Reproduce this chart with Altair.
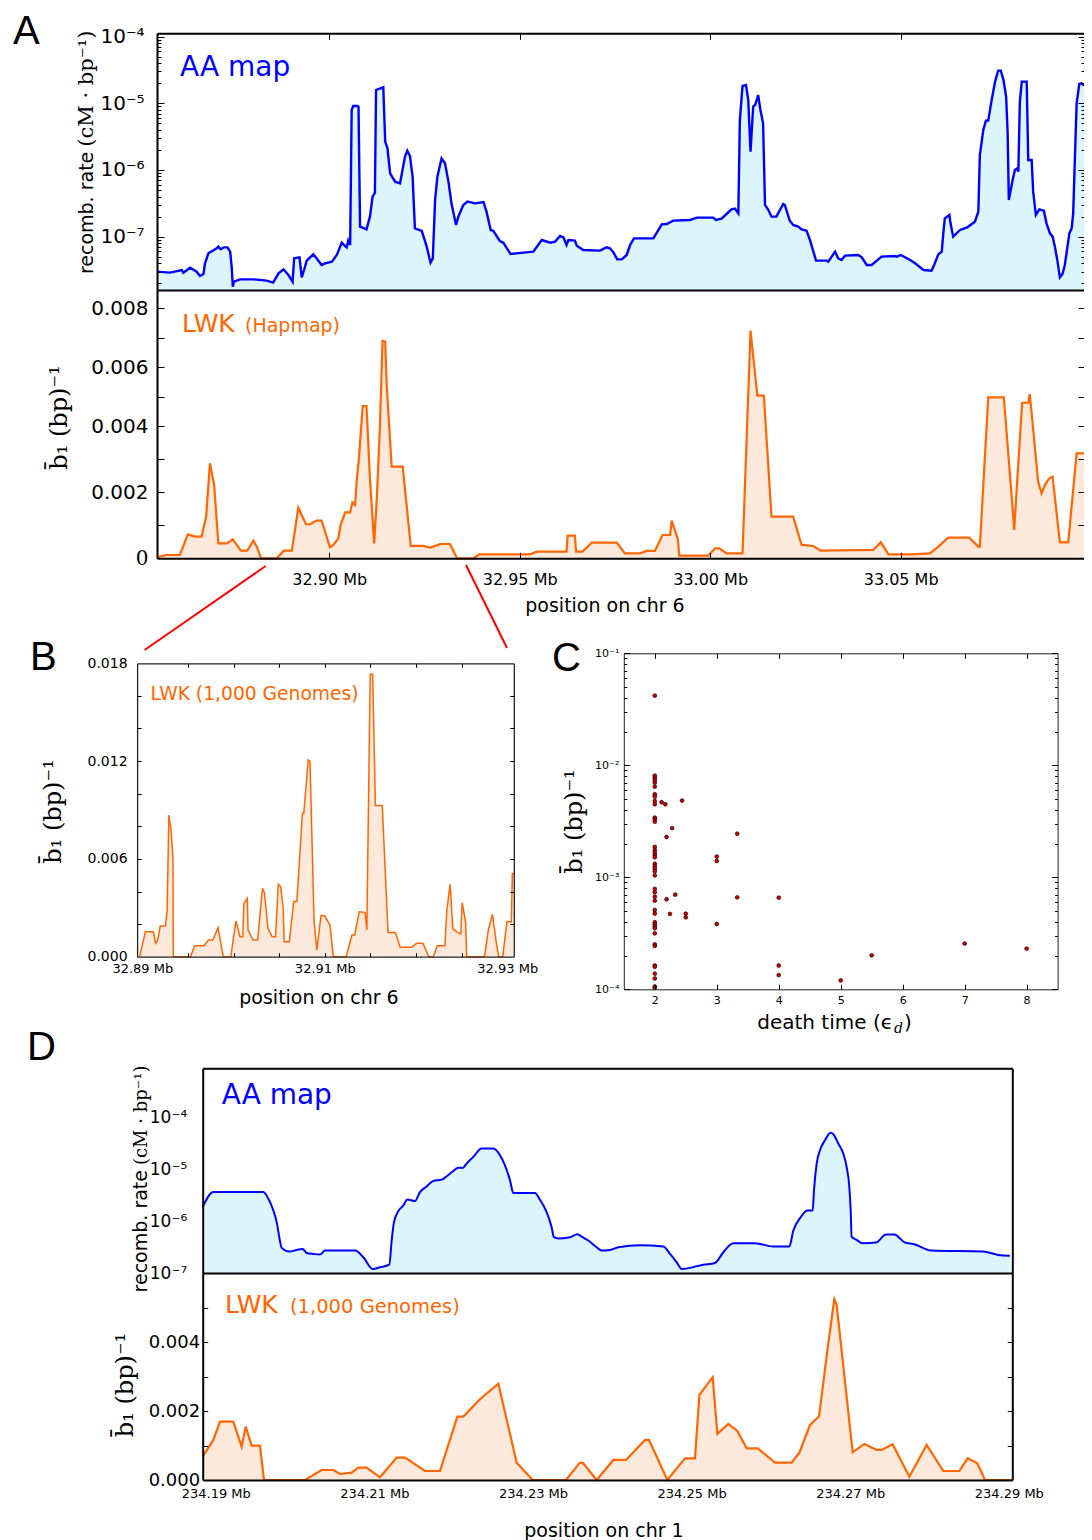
import altair as alt
import pandas as pd

W, H = 1076, 1532

# ---------------- data (positions in kb) ----------------
# Panel A, AA map on chr 6: (position kb, log10 recombination rate [cM/bp])
aa_map_chr6 = [
    (32854.8, -7.525), (32858.2, -7.54), (32861.3, -7.50), (32861.7, -7.54), (32863.5, -7.465),
    (32865.2, -7.525), (32866.1, -7.59), (32867.0, -7.56), (32867.4, -7.40), (32868.3, -7.25),
    (32870.5, -7.175), (32870.9, -7.15), (32871.5, -7.19), (32872.4, -7.16), (32873.3, -7.16),
    (32874.0, -7.225), (32874.4, -7.45), (32874.7, -7.75), (32875.0, -7.675), (32876.6, -7.64),
    (32880.1, -7.64), (32883.6, -7.66), (32885.3, -7.69), (32886.7, -7.55), (32888.0, -7.49),
    (32889.3, -7.575), (32890.4, -7.675), (32890.8, -7.325), (32892.2, -7.31), (32892.8, -7.61),
    (32893.4, -7.50), (32894.1, -7.36), (32895.8, -7.265), (32896.7, -7.325), (32898.0, -7.425),
    (32898.9, -7.40), (32900.7, -7.375), (32902.0, -7.275), (32903.3, -7.09), (32904.2, -7.14),
    (32904.6, -7.16), (32905.0, -7.06), (32905.5, -7.125), (32905.9, -5.10), (32906.3, -5.04),
    (32907.4, -5.04), (32907.7, -5.05), (32908.1, -6.85), (32909.8, -6.89), (32910.7, -6.70),
    (32911.4, -6.40), (32912.0, -6.34), (32912.3, -4.80), (32914.2, -4.76), (32914.7, -5.575),
    (32915.3, -5.675), (32916.0, -6.05), (32917.3, -6.175), (32918.6, -6.20), (32919.0, -6.075),
    (32919.9, -5.80), (32920.5, -5.71), (32921.2, -5.79), (32921.9, -6.10), (32922.5, -6.875),
    (32924.3, -6.915), (32925.6, -7.15), (32926.6, -7.39), (32927.2, -7.325), (32927.8, -6.45),
    (32928.4, -6.10), (32929.5, -5.825), (32930.4, -5.90), (32931.3, -6.175), (32932.1, -6.50),
    (32933.3, -6.825), (32933.9, -6.70), (32935.2, -6.525), (32936.3, -6.475), (32938.3, -6.50),
    (32940.5, -6.48), (32941.3, -6.625), (32942.4, -6.90), (32943.1, -6.915), (32944.8, -7.065),
    (32945.7, -7.09), (32947.6, -7.26), (32951.0, -7.24), (32953.6, -7.225), (32955.8, -7.05),
    (32958.0, -7.09), (32959.3, -7.075), (32960.6, -6.99), (32961.5, -7.01), (32962.3, -7.125),
    (32962.8, -7.05), (32964.5, -7.06), (32965.0, -7.135), (32966.7, -7.20), (32971.1, -7.21),
    (32972.8, -7.16), (32973.7, -7.175), (32974.6, -7.235), (32975.6, -7.34), (32976.8, -7.34),
    (32978.1, -7.275), (32979.0, -7.125), (32980.0, -7.025), (32985.1, -7.025), (32987.3, -6.815),
    (32988.6, -6.81), (32990.3, -6.76), (32994.7, -6.75), (32996.5, -6.715), (33000.8, -6.715),
    (33001.5, -6.75), (33003.0, -6.73), (33005.6, -6.59), (33006.5, -6.58), (33007.4, -6.65),
    (33007.8, -5.25), (33008.5, -4.74), (33009.4, -4.725), (33010.0, -4.95), (33010.6, -5.725),
    (33011.3, -5.05), (33011.8, -5.025), (33012.6, -4.875), (33013.2, -5.10), (33013.9, -5.30),
    (33014.4, -6.525), (33015.3, -6.60), (33016.1, -6.70), (33017.4, -6.70), (33018.3, -6.60),
    (33019.2, -6.51), (33019.6, -6.525), (33020.9, -6.76), (33021.8, -6.825), (33023.1, -6.85),
    (33024.0, -6.89), (33025.3, -6.91), (33026.2, -7.05), (33027.8, -7.36), (33030.6, -7.36),
    (33031.0, -7.375), (33032.8, -7.225), (33033.6, -7.325), (33034.5, -7.35), (33035.4, -7.285),
    (33038.9, -7.275), (33039.8, -7.31), (33041.1, -7.425), (33042.4, -7.425), (33045.0, -7.30),
    (33048.5, -7.29), (33049.0, -7.30), (33050.0, -7.275), (33052.5, -7.35), (33053.8, -7.40),
    (33056.0, -7.50), (33058.1, -7.51), (33058.8, -7.425), (33059.9, -7.265), (33060.8, -7.225),
    (33061.2, -6.95), (33061.6, -6.725), (33062.8, -6.675), (33063.1, -6.80), (33063.8, -7.00),
    (33065.6, -6.90), (33067.5, -6.86), (33069.5, -6.775), (33070.4, -6.625), (33070.8, -5.775),
    (33071.7, -5.40), (33072.4, -5.26), (33073.0, -5.26), (33073.9, -4.95), (33074.8, -4.675),
    (33075.6, -4.51), (33076.3, -4.51), (33077.0, -4.65), (33077.7, -4.90), (33078.1, -5.45),
    (33078.4, -6.45), (33079.4, -6.15), (33080.0, -6.00), (33080.6, -5.975), (33080.9, -6.025),
    (33081.3, -4.975), (33081.8, -4.675), (33083.1, -4.675), (33083.5, -5.85), (33084.4, -5.85),
    (33084.8, -6.325), (33085.5, -6.675), (33086.4, -6.59), (33087.6, -6.61), (33088.3, -6.80),
    (33089.2, -6.95), (33089.9, -7.00), (33090.5, -7.15), (33091.2, -7.375), (33091.8, -7.61),
    (33092.5, -7.56), (33093.1, -7.425), (33094.3, -6.95), (33094.9, -6.875), (33095.3, -6.65),
    (33096.2, -5.00), (33096.9, -4.71), (33097.5, -4.70), (33098.0, -4.725), (33098.4, -4.725),
]

# Panel A, LWK (Hapmap) on chr 6: (position kb, b1 inverse [1/bp])
lwk_hapmap_chr6 = [
    (32854.8, 0.00003), (32857.2, 0.0001), (32860.8, 0.0001), (32862.9, 0.000725), (32863.9, 0.000685),
    (32864.8, 0.000655), (32866.5, 0.000655), (32867.7, 0.00126), (32868.7, 0.00287), (32869.8, 0.00222),
    (32870.9, 0.000453), (32873.1, 0.000453), (32874.7, 0.000574), (32876.8, 0.000232), (32878.5, 0.000232),
    (32880.1, 0.000534), (32881.0, 0.000353), (32882.1, 0.0), (32886.2, 0.0), (32888.1, 0.000232),
    (32890.2, 0.000232), (32891.9, 0.00153), (32893.9, 0.00103), (32895.0, 0.00103), (32896.7, 0.00114),
    (32898.0, 0.00114), (32900.2, 0.000333), (32901.1, 0.000403), (32902.4, 0.000605), (32903.0, 0.00101),
    (32904.2, 0.00139), (32905.5, 0.00139), (32906.1, 0.00169), (32906.8, 0.00161), (32907.2, 0.00232),
    (32907.8, 0.00302), (32908.8, 0.00468), (32909.8, 0.00468), (32910.7, 0.00242), (32911.8, 0.000453),
    (32912.5, 0.00181), (32913.3, 0.00393), (32914.0, 0.00689), (32914.7, 0.00687), (32915.1, 0.00539),
    (32916.4, 0.00277), (32919.3, 0.00277), (32921.4, 0.000373), (32924.7, 0.000373), (32926.5, 0.000322),
    (32927.3, 0.000353), (32929.1, 0.000433), (32931.7, 0.000433), (32933.6, 0.0), (32937.8, 0.0),
    (32939.4, 0.000121), (32952.7, 0.000121), (32954.5, 0.000202), (32962.3, 0.000202), (32962.6, 0.000685),
    (32964.5, 0.000685), (32964.8, 0.000202), (32966.5, 0.000202), (32968.9, 0.000474), (32975.5, 0.000474),
    (32977.6, 0.000151), (32981.6, 0.000151), (32983.3, 0.000222), (32985.5, 0.000222), (32987.5, 0.000705),
    (32989.5, 0.000705), (32989.9, 0.00114), (32991.5, 0.000584), (32991.9, 0.0000806), (32999.5, 0.0000806),
    (33001.3, 0.000302), (33002.4, 0.000302), (33004.3, 0.000151), (33008.5, 0.000151), (33010.6, 0.00724),
    (33012.4, 0.00503), (33014.1, 0.00503), (33016.1, 0.00126), (33021.8, 0.00126), (33024.0, 0.000403),
    (33027.1, 0.000373), (33029.0, 0.000232), (33042.8, 0.000252), (33044.8, 0.000484), (33046.8, 0.000121),
    (33052.9, 0.000121), (33057.7, 0.000151), (33059.9, 0.000353), (33062.5, 0.000625), (33068.0, 0.000625),
    (33070.4, 0.000353), (33070.8, 0.000353), (33073.0, 0.00497), (33077.1, 0.00497), (33079.6, 0.00121),
    (33079.8, 0.000856), (33081.9, 0.00479), (33083.5, 0.00479), (33083.9, 0.00508), (33084.4, 0.00443),
    (33086.1, 0.00232), (33087.0, 0.00196), (33087.9, 0.00222), (33089.0, 0.00242), (33089.9, 0.00247),
    (33091.8, 0.000484), (33094.0, 0.000484), (33096.2, 0.00317), (33098.4, 0.00317),
]

# Panel B, LWK (1,000 Genomes) on chr 6: (position kb, b1 inverse)
lwk_1kg_chr6 = [
    (32889.70, 0.0), (32890.34, 0.00153), (32891.21, 0.00153), (32891.47, 0.000818), (32891.70, 0.00102),
    (32891.96, 0.00188), (32892.53, 0.00188), (32892.72, 0.00276), (32892.91, 0.00869), (32893.13, 0.00788),
    (32893.36, 0.00607), (32893.40, 0.0), (32895.28, 0.0), (32895.74, 0.000675), (32896.76, 0.000675),
    (32897.25, 0.00102), (32897.74, 0.00102), (32898.30, 0.00178), (32898.87, 0.0), (32899.70, 0.0),
    (32900.26, 0.00219), (32900.72, 0.00123), (32901.02, 0.00123), (32901.13, 0.00327), (32901.51, 0.00358),
    (32901.59, 0.00164), (32902.15, 0.00102), (32902.64, 0.00102), (32903.17, 0.00419), (32903.40, 0.00389),
    (32903.77, 0.00174), (32904.23, 0.00123), (32904.60, 0.00123), (32904.91, 0.00444), (32905.17, 0.0043),
    (32905.44, 0.00297), (32905.55, 0.00092), (32906.11, 0.00092), (32906.60, 0.00338), (32906.94, 0.00338),
    (32907.55, 0.0088), (32907.70, 0.0088), (32908.19, 0.01207), (32908.38, 0.01201), (32908.83, 0.00215),
    (32909.13, 0.00041), (32909.59, 0.00252), (32909.96, 0.00252), (32910.57, 0.00194), (32910.94, 0.0),
    (32912.34, 0.0), (32912.98, 0.00133), (32913.28, 0.00133), (32913.78, 0.00276), (32914.42, 0.00272),
    (32914.61, 0.00164), (32914.98, 0.01733), (32915.25, 0.01733), (32915.55, 0.00927), (32916.30, 0.00927),
    (32916.94, 0.00149), (32917.74, 0.00149), (32918.27, 0.000573), (32919.51, 0.000573), (32920.08, 0.000818),
    (32920.76, 0.000818), (32921.40, 0.0), (32921.89, 0.0), (32922.34, 0.000675), (32923.17, 0.000675),
    (32923.36, 0.00272), (32923.74, 0.00444), (32924.04, 0.0017), (32924.72, 0.00143), (32924.91, 0.00139),
    (32925.06, 0.00331), (32925.44, 0.00211), (32925.55, 0.0), (32927.51, 0.0), (32927.93, 0.00164),
    (32928.38, 0.0026), (32928.76, 0.00102), (32929.06, 0.0), (32929.51, 0.0), (32929.96, 0.00215),
    (32930.45, 0.00215), (32930.56, 0.00511), (32930.72, 0.00511),
]

# Panel C: (death time, b1 inverse)
death_time_vs_b1 = [
    (2, 0.0419), (2, 0.00809), (2, 0.00776), (2, 0.0074), (2, 0.0070), (2, 0.00645), (2, 0.00551),
    (2, 0.00525), (2, 0.0048), (2, 0.00449), (2, 0.00341), (2, 0.0033), (2, 0.00314), (2, 0.00187),
    (2, 0.00175), (2, 0.00166), (2, 0.00158), (2, 0.00151), (2, 0.00132), (2, 0.00126), (2, 0.0012),
    (2, 0.00113), (2, 0.00104), (2, 0.000787), (2, 0.000735), (2, 0.000672), (2, 0.000619), (2, 0.000511),
    (2, 0.000474), (2, 0.000397), (2, 0.00038), (2, 0.000363), (2, 0.000351), (2, 0.000316), (2, 0.000252),
    (2, 0.000244), (2, 0.000163), (2, 0.000159), (2, 0.000138), (2, 0.000125), (2, 0.000106), (2, 0.000103),
    (2.11, 0.00468), (2.17, 0.00449), (2.44, 0.00484), (2.28, 0.00275), (2.19, 0.00229), (3.33, 0.00245),
    (3.0, 0.00153), (3.0, 0.0014), (2.33, 0.0007), (2.19, 0.000637), (2.245, 0.000471), (2.5, 0.000474),
    (2.5, 0.000439), (3.33, 0.000662), (3.0, 0.000383), (4.0, 0.000658), (4.0, 0.000163), (4.0, 0.000134),
    (5.0, 0.00012), (5.5, 0.000201), (7.0, 0.000256), (8.0, 0.000231),
]

# Panel D, AA map on chr 1: (position kb, log10 recombination rate)
aa_map_chr1 = [
    (234188.35, -5.729), (234189.69, -5.439), (234195.99, -5.439), (234196.63, -5.568), (234197.26, -5.794),
    (234197.68, -6.019), (234198.01, -6.310), (234198.31, -6.516), (234199.27, -6.587), (234200.20, -6.555),
    (234200.95, -6.535), (234201.46, -6.613), (234202.30, -6.632), (234203.14, -6.645), (234203.77, -6.568),
    (234207.55, -6.568), (234208.60, -6.697), (234209.78, -6.923), (234210.71, -6.890), (234211.88, -6.839),
    (234212.18, -6.374), (234212.47, -6.019), (234213.02, -5.806), (234213.65, -5.697), (234214.15, -5.581),
    (234215.12, -5.613), (234215.75, -5.439), (234216.51, -5.342), (234217.43, -5.226), (234218.48, -5.200),
    (234219.11, -5.135), (234219.95, -5.032), (234220.58, -4.968), (234221.13, -4.974), (234221.63, -4.890),
    (234222.47, -4.761), (234223.52, -4.600), (234224.99, -4.600), (234225.84, -4.729), (234226.47, -4.923),
    (234227.10, -5.213), (234227.52, -5.458), (234230.25, -5.458), (234230.88, -5.587), (234231.72, -5.826),
    (234232.35, -6.116), (234232.64, -6.310), (234233.19, -6.335), (234234.66, -6.310), (234235.59, -6.252),
    (234236.13, -6.297), (234236.97, -6.374), (234238.02, -6.503), (234238.66, -6.568), (234239.71, -6.555),
    (234240.76, -6.503), (234243.50, -6.465), (234246.44, -6.490), (234247.28, -6.632), (234248.12, -6.794),
    (234248.75, -6.923), (234251.48, -6.839), (234252.95, -6.806), (234254.00, -6.600), (234255.26, -6.426),
    (234258.00, -6.426), (234260.31, -6.490), (234262.32, -6.490), (234262.83, -6.181), (234263.67, -5.942),
    (234264.59, -5.794), (234265.27, -5.794), (234265.43, -5.406), (234265.77, -4.890), (234266.19, -4.632),
    (234266.82, -4.439), (234267.54, -4.297), (234267.87, -4.323), (234268.50, -4.503), (234269.13, -4.697),
    (234269.55, -4.955), (234269.89, -5.342), (234270.06, -5.794), (234270.18, -6.297), (234270.81, -6.361),
    (234271.57, -6.426), (234273.25, -6.413), (234274.51, -6.258), (234275.56, -6.258), (234276.91, -6.413),
    (234277.96, -6.439), (234280.27, -6.568), (234286.79, -6.587), (234288.68, -6.652), (234290.15, -6.665),
]

# Panel D, LWK (1,000 Genomes) on chr 1: (position kb, b1 inverse)
lwk_1kg_chr1 = [
    (234188.35, 0.00068), (234189.69, 0.001165), (234190.53, 0.001699), (234192.21, 0.001699),
    (234193.26, 0.000971), (234193.77, 0.001553), (234194.52, 0.001), (234195.57, 0.001), (234196.08, 0.0),
    (234201.25, 0.0), (234203.35, 0.000291), (234204.82, 0.000291), (234205.66, 0.000175), (234207.13, 0.000214),
    (234207.97, 0.000359), (234209.02, 0.000359), (234210.71, 0.0000777), (234212.81, 0.00065), (234213.86, 0.00065),
    (234216.38, 0.000262), (234218.27, 0.000262), (234220.46, 0.001845), (234221.21, 0.001845), (234223.31, 0.00235),
    (234225.63, 0.0028), (234227.94, 0.000505), (234229.95, 0.0), (234234.16, 0.0), (234235.92, 0.000505),
    (234236.34, 0.000485), (234238.03, 0.0), (234240.13, 0.000583), (234241.73, 0.000583), (234244.13, 0.001165),
    (234244.63, 0.001165), (234246.94, 0.0), (234249.17, 0.000631), (234250.43, 0.000631), (234250.98, 0.002476),
    (234252.66, 0.00299), (234253.25, 0.00134), (234254.63, 0.001631), (234255.77, 0.001427), (234256.95, 0.000922),
    (234258.33, 0.000922), (234260.52, 0.000505), (234262.62, 0.000505), (234263.59, 0.000796), (234264.93, 0.001602),
    (234266.07, 0.001845), (234267.24, 0.00398), (234268.00, 0.00526), (234268.29, 0.0051), (234270.31, 0.000806),
    (234271.78, 0.001049), (234273.34, 0.000874), (234273.97, 0.000874), (234275.35, 0.001039), (234277.46, 0.0000971),
    (234279.64, 0.001019), (234281.74, 0.000262), (234283.76, 0.000262), (234284.81, 0.000631), (234286.03, 0.000485),
    (234287.00, 0.0), (234290.44, 0.0),
]

# tick values
chr6_ticks_kb = [32900, 32950, 33000, 33050]
b_label_kb = [32890, 32910, 32930]
b_tick_kb = [32895, 32900, 32905, 32910, 32915, 32920, 32925]
chr1_ticks_kb = [234190, 234210, 234230, 234250, 234270, 234290]
death_ticks = [2, 3, 4, 5, 6, 7, 8]

# ---------------- frames ----------------
dfAt = pd.DataFrame(aa_map_chr6, columns=["kb", "log10_rate"])
dfAt["rate"] = 10.0 ** dfAt["log10_rate"]
dfAb = pd.DataFrame(lwk_hapmap_chr6, columns=["kb", "b1"])
dfB = pd.DataFrame(lwk_1kg_chr6, columns=["kb", "b1"])
dfC = pd.DataFrame(death_time_vs_b1, columns=["death", "b1"])
dfDt = pd.DataFrame(aa_map_chr1, columns=["kb", "log10_rate"])
dfDt["rate"] = 10.0 ** dfDt["log10_rate"]
dfDb = pd.DataFrame(lwk_1kg_chr1, columns=["kb", "b1"])
one = pd.DataFrame({"a": [0]})

BLUE, CYAN = "#0000ff", "#dcf5fd"
ORANGE, PEACH = "#ff6600", "#fde9dc"

MAJOR = "abs(log(datum.value)/LN10 - round(log(datum.value)/LN10)) < 1e-6"
SUP = "['⁰','¹','²','³','⁴','⁵','⁶','⁷','⁸','⁹']"
LOGLAB = "'10⁻' + " + SUP + "[-round(log(datum.value)/LN10)]"
MB = "format(datum.value/1000, '.2f') + ' Mb'"


def log_ticks(lo, hi):
    out = []
    for n in range(-9, 0):
        for k in range(1, 10):
            v = k * 10.0 ** n
            if lo * 0.999 <= v <= hi * 1.001:
                out.append(v)
    return out


def ax(orient, pos, values=None, labels=False, expr=None, fmt=None, lsize=12, lpad=4,
       lfont="DejaVu Sans", ticks=False, tsize=4, tminor=None, domain=False, dwidth=1.0,
       dcolor="black"):
    off = {"left": -pos, "top": -pos, "right": pos - W, "bottom": pos - H}[orient]
    kw = dict(orient=orient, offset=off, title=None, grid=False, labels=labels, ticks=ticks,
              domain=domain, zindex=2, labelFlush=False, labelOverlap=False, labelBound=False)
    if values is not None:
        kw["values"] = values
    if labels:
        kw.update(labelFontSize=lsize, labelPadding=lpad, labelColor="black", labelFont=lfont)
        if expr:
            kw["labelExpr"] = expr
        if fmt:
            kw["format"] = fmt
    if ticks:
        kw.update(tickColor="black", tickWidth=1)
        if tminor is not None:
            kw["tickSize"] = {"condition": {"test": MAJOR, "value": tsize}, "value": tminor}
        else:
            kw["tickSize"] = tsize
    else:
        kw["tickSize"] = 0
    if domain:
        kw.update(domainColor=dcolor, domainWidth=dwidth)
    return alt.Axis(**kw)


def ghost(df, xf, yf, xs, ys, xa, ya):
    return alt.Chart(df).mark_point(opacity=0, size=1).encode(
        x=alt.X(xf, scale=xs, axis=xa), y=alt.Y(yf, scale=ys, axis=ya))


def txt(s, x, y, size, color="black", font="DejaVu Sans", align="left",
        baseline="alphabetic", angle=0, style="normal"):
    return alt.Chart(one).mark_text(text=s, fontSize=size, color=color, font=font, align=align,
                                    baseline=baseline, angle=angle, fontStyle=style).encode(
        x=alt.value(x), y=alt.value(y))


def seg(x1, y1, x2, y2):
    return alt.Chart(one).mark_rule(color="#ff0000", strokeWidth=2).encode(
        x=alt.value(x1), y=alt.value(y1), x2=alt.value(x2), y2=alt.value(y2))


layers = []

# ---------------- Panel A ----------------
AL, AR, AT, AM, AB = 149, 1077, 25.3, 282, 550.3
xsA = alt.Scale(domain=[32854.8, 33098.4], range=[AL, AR], nice=False, zero=False)
amin, amax = 10 ** -7.8, 10 ** -3.95
ysAt = alt.Scale(type="log", domain=[amin, amax], range=[AM, AT], nice=False)
At_ticks = log_ticks(amin, amax)
At_major = [1e-7, 1e-6, 1e-5, 1e-4]

layers.append(alt.Chart(dfAt).mark_area(color=CYAN, opacity=1,
                                         line={"color": BLUE, "strokeWidth": 2.4}).encode(
    x=alt.X("kb:Q", scale=xsA, axis=ax("bottom", AM, domain=True, dwidth=2)),
    y=alt.Y("rate:Q", scale=ysAt, axis=ax("left", AL, values=At_major, labels=True, expr=LOGLAB,
                                          lsize=20, lpad=13, domain=True, dwidth=2)),
    y2=alt.datum(amin)))
layers.append(ghost(dfAt, "kb:Q", "rate:Q", xsA, ysAt, None,
                    ax("right", AL, values=At_ticks, ticks=True, tsize=7, tminor=4)))
layers.append(ghost(dfAt, "kb:Q", "rate:Q", xsA, ysAt,
                    ax("bottom", AT, values=chr6_ticks_kb, ticks=True, tsize=6, domain=True, dwidth=2),
                    ax("left", AR, values=At_ticks, ticks=True, tsize=7, tminor=4, domain=True, dwidth=2)))

ysAb = alt.Scale(domain=[0, 0.004, 0.008, 0.00862], range=[AB, 418, 300.3, AM], nice=False, zero=False)
Ab_lab = [0, 0.002, 0.004, 0.006, 0.008]
Ab_ticks = [0.001, 0.002, 0.003, 0.004, 0.005, 0.006, 0.007, 0.008]
Ab_axis_y = ax("left", AL, values=Ab_lab, labels=True,
               expr="datum.value == 0 ? '0' : format(datum.value, '.3f')", lsize=20, lpad=9,
               domain=True, dwidth=2)
Ab_axis_y["labelFont"] = {"condition": {"test": "datum.value == 0", "value": "DejaVu Serif"},
                          "value": "DejaVu Sans"}
layers.append(alt.Chart(dfAb).mark_area(color=PEACH, opacity=1,
                                         line={"color": ORANGE, "strokeWidth": 2.2}).encode(
    x=alt.X("kb:Q", scale=xsA, axis=ax("bottom", AB, values=chr6_ticks_kb, labels=True, expr=MB,
                                       lsize=16, lpad=13, domain=True, dwidth=2)),
    y=alt.Y("b1:Q", scale=ysAb, axis=Ab_axis_y),
    y2=alt.datum(0)))
layers.append(ghost(dfAb, "kb:Q", "b1:Q", xsA, ysAb,
                    ax("top", AB, values=chr6_ticks_kb, ticks=True, tsize=6),
                    ax("right", AL, values=Ab_ticks, ticks=True, tsize=7)))
layers.append(ghost(dfAb, "kb:Q", "b1:Q", xsA, ysAb, None,
                    ax("left", AR, values=Ab_ticks, ticks=True, tsize=7, domain=True, dwidth=2)))

# ---------------- Panel B ----------------
BL, BR, BT, BB = 129.1, 505.8, 655.3, 948.7
xsB = alt.Scale(domain=[32889.43, 32930.72], range=[BL, BR], nice=False, zero=False)
ysB = alt.Scale(domain=[0, 0.018], range=[BB, BT], nice=False, zero=False)
B_yt = [0.002, 0.004, 0.006, 0.008, 0.010, 0.012, 0.014, 0.016]
layers.append(alt.Chart(dfB).mark_area(color=PEACH, opacity=1,
                                        line={"color": ORANGE, "strokeWidth": 1.5}).encode(
    x=alt.X("kb:Q", scale=xsB, axis=ax("bottom", BB, values=b_label_kb, labels=True, expr=MB,
                                       lsize=13, lpad=6, domain=True, dwidth=1.3, dcolor="#222222")),
    y=alt.Y("b1:Q", scale=ysB, axis=ax("left", BL, values=[0, 0.006, 0.012, 0.018], labels=True,
                                       fmt=".3f", lsize=14, lpad=10, domain=True, dwidth=1.3,
                                       dcolor="#222222")),
    y2=alt.datum(0)))
layers.append(ghost(dfB, "kb:Q", "b1:Q", xsB, ysB,
                    ax("top", BB, values=b_tick_kb, ticks=True, tsize=4),
                    ax("right", BL, values=B_yt, ticks=True, tsize=4)))
layers.append(ghost(dfB, "kb:Q", "b1:Q", xsB, ysB,
                    ax("bottom", BT, values=b_tick_kb, ticks=True, tsize=4, domain=True,
                       dwidth=1.3, dcolor="#222222"),
                    ax("left", BR, values=B_yt, ticks=True, tsize=4, domain=True, dwidth=1.3,
                       dcolor="#222222")))

# ---------------- Panel C ----------------
CL, CR, CT, CB = 615.8, 1049.6, 645.3, 981.3
xsC = alt.Scale(domain=[1.5, 8.5], range=[CL, CR], nice=False, zero=False)
ysC = alt.Scale(type="log", domain=[1e-4, 1e-1], range=[CB, CT], nice=False)
C_ticks = log_ticks(1e-4, 1e-1)
layers.append(alt.Chart(dfC).mark_circle(size=15, color="#cc0000", stroke="black", strokeWidth=0.6,
                                          opacity=1).encode(
    x=alt.X("death:Q", scale=xsC, axis=ax("bottom", CB, values=death_ticks, labels=True, fmt="d",
                                          lsize=11, lpad=5, domain=True, dwidth=1, dcolor="#222222")),
    y=alt.Y("b1:Q", scale=ysC, axis=ax("left", CL, values=[1e-4, 1e-3, 1e-2, 1e-1], labels=True,
                                       expr=LOGLAB, lsize=11, lpad=5, domain=True, dwidth=1,
                                       dcolor="#222222"))))
layers.append(ghost(dfC, "death:Q", "b1:Q", xsC, ysC,
                    ax("top", CB, values=death_ticks, ticks=True, tsize=5),
                    ax("right", CL, values=C_ticks, ticks=True, tsize=6, tminor=3)))
layers.append(ghost(dfC, "death:Q", "b1:Q", xsC, ysC,
                    ax("bottom", CT, values=death_ticks, ticks=True, tsize=5, domain=True, dwidth=1,
                       dcolor="#222222"),
                    ax("left", CR, values=C_ticks, ticks=True, tsize=6, tminor=3, domain=True,
                       dwidth=1, dcolor="#222222")))

# ---------------- Panel D ----------------
DL, DR, DT, DM, DB = 194.7, 1004.3, 1060.3, 1265, 1472
xsD = alt.Scale(domain=[234188.35, 234290.44], range=[DL, DR], nice=False, zero=False)
dmax = 10 ** -3.052
ysDt = alt.Scale(type="log", domain=[1e-7, dmax], range=[DM, DT], nice=False)
layers.append(alt.Chart(dfDt).mark_area(color=CYAN, opacity=1, interpolate="monotone",
                                         line={"color": BLUE, "strokeWidth": 2}).encode(
    x=alt.X("kb:Q", scale=xsD, axis=ax("bottom", DM, domain=True, dwidth=2)),
    y=alt.Y("rate:Q", scale=ysDt, axis=ax("left", DL, values=[1e-7, 1e-6, 1e-5, 1e-4], labels=True,
                                          expr=LOGLAB, lsize=17, lpad=16, domain=True, dwidth=2)),
    y2=alt.datum(1e-7)))
layers.append(ghost(dfDt, "kb:Q", "rate:Q", xsD, ysDt,
                    ax("bottom", DT, domain=True, dwidth=2),
                    ax("left", DR, domain=True, dwidth=2)))

ysDb = alt.Scale(domain=[0, 0.00602], range=[DB, DM], nice=False, zero=False)
Db_ticks = [0.001, 0.002, 0.003, 0.004, 0.005]
layers.append(alt.Chart(dfDb).mark_area(color=PEACH, opacity=1,
                                         line={"color": ORANGE, "strokeWidth": 2.2}).encode(
    x=alt.X("kb:Q", scale=xsD, axis=ax("bottom", DB, values=chr1_ticks_kb, labels=True, expr=MB,
                                       lsize=13, lpad=7, domain=True, dwidth=2)),
    y=alt.Y("b1:Q", scale=ysDb, axis=ax("left", DL, values=[0, 0.002, 0.004], labels=True, fmt=".3f",
                                        lsize=18, lpad=3, domain=True, dwidth=2)),
    y2=alt.datum(0)))
layers.append(ghost(dfDb, "kb:Q", "b1:Q", xsD, ysDb, None,
                    ax("right", DL, values=Db_ticks, ticks=True, tsize=5)))
layers.append(ghost(dfDb, "kb:Q", "b1:Q", xsD, ysDb, None,
                    ax("left", DR, values=Db_ticks, ticks=True, tsize=5, domain=True, dwidth=2)))

# ---------------- annotations ----------------
layers += [
    seg(257.7, 558, 136.6, 642),
    seg(458, 557, 499, 640),
    txt("A", 5, 36, 40, font="Liberation Sans"),
    txt("B", 22, 662, 40, font="Liberation Sans"),
    txt("C", 544, 663, 40, font="Liberation Sans"),
    txt("D", 19, 1052, 40, font="Liberation Sans"),
    txt("AA map", 172, 68, 28, color=BLUE),
    txt("LWK", 174, 324, 25, color=ORANGE),
    txt("(Hapmap)", 237, 324, 19, color=ORANGE),
    txt("LWK (1,000 Genomes)", 142.5, 692, 18.7, color=ORANGE),
    txt("AA map", 213.7, 1096, 28, color=BLUE),
    txt("LWK", 217, 1305, 25, color=ORANGE),
    txt("(1,000 Genomes)", 282, 1305, 19.5, color=ORANGE),
    # y titles
    txt("recomb. rate ", 85, 143.7, 19, align="right", angle=270),
    txt("(cM · bp⁻¹)", 85, 138.7, 21, font="DejaVu Serif", align="left", angle=270),
    txt("b̄₁ (bp)⁻¹", 59, 409.5, 24, font="DejaVu Serif", align="center", angle=270),
    txt("b̄₁ (bp)⁻¹", 53, 803.5, 24, font="DejaVu Serif", align="center", angle=270),
    txt("b̄₁ (bp)⁻¹", 574, 813.5, 24, font="DejaVu Serif", align="center", angle=270),
    txt("recomb. rate ", 139, 1162, 19, align="right", angle=270),
    txt("(cM · bp⁻¹)", 139, 1157, 18, font="DejaVu Serif", align="left", angle=270),
    txt("b̄₁ (bp)⁻¹", 125, 1377, 24, font="DejaVu Serif", align="center", angle=270),
    # x titles
    txt("position on chr 6", 597, 604, 19, align="center"),
    txt("position on chr 6", 311, 996, 19, align="center"),
    txt("death time (ϵ", 885, 1021, 20, align="right"),
    txt("d", 886, 1025, 14, font="DejaVu Serif", style="italic"),
    txt(")", 896, 1021, 20),
    txt("position on chr 1", 596, 1529, 19, align="center"),
]

chart = alt.layer(*layers).resolve_scale(x="independent", y="independent").resolve_axis(
    x="independent", y="independent").properties(
    width=W, height=H, autosize=alt.AutoSizeParams(type="none"), padding=0,
    background="white").configure_view(stroke=None)

chart.save("out.html", embed_options={"renderer": "svg", "actions": False})
